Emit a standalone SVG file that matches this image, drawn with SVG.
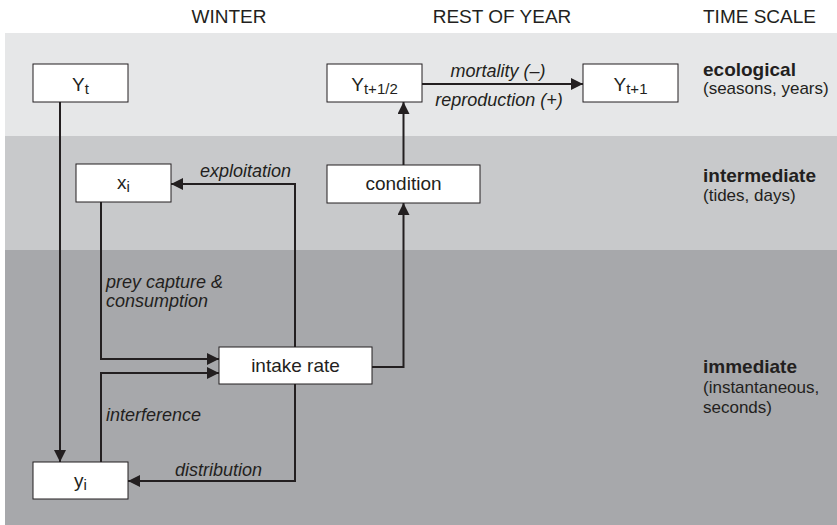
<svg xmlns="http://www.w3.org/2000/svg" width="837" height="525" viewBox="0 0 837 525">
<defs>
<marker id="arr" markerUnits="userSpaceOnUse" markerWidth="12" markerHeight="12" refX="12" refY="6" orient="auto">
<path d="M0,0 L12,6 L0,12 Z" fill="#231f20"/>
</marker>
<style>
text{font-family:"Liberation Sans",Arial,Helvetica,sans-serif;fill:#231f20}
.hd{font-size:19px;text-anchor:middle}
.nd rect{fill:#fff;stroke:#231f20;stroke-width:1}
.nd text{font-size:19px;text-anchor:middle}
.sub{font-size:15px}
.lbl{font-size:18px;font-style:italic}
.b{font-size:19px;font-weight:bold}
.s{font-size:17px}
#connectors path{fill:none;stroke:#231f20;stroke-width:2;marker-end:url(#arr)}
</style>
</defs>
<rect x="5" y="33" width="832" height="103" fill="#e6e7e8"/>
<rect x="5" y="136" width="832" height="114" fill="#c8c9cb"/>
<rect x="5" y="250" width="832" height="275" fill="#a7a8ab"/>
<g id="headers">
<text class="hd" x="229" y="23">WINTER</text>
<text class="hd" x="502" y="23">REST OF YEAR</text>
<text class="hd" x="703" y="23" style="text-anchor:start">TIME SCALE</text>
</g>
<g id="scales">
<text class="b" x="703" y="75.5">ecological</text>
<text class="s" x="703" y="94">(seasons, years)</text>
<text class="b" x="703" y="182">intermediate</text>
<text class="s" x="703" y="200.5">(tides, days)</text>
<text class="b" x="703" y="373">immediate</text>
<text class="s" x="703" y="393">(instantaneous,</text>
<text class="s" x="703" y="413">seconds)</text>
</g>
<g id="connectors">
<path d="M60,102 V462"/>
<path d="M101,202 V359 H219"/>
<path d="M101,462 V373 H219"/>
<path d="M295,347 V184 H171"/>
<path d="M295,384 V481 H128"/>
<path d="M372,367 H403.5 V203"/>
<path d="M403.5,165 V102"/>
<path d="M422,84 H583"/>
</g>
<g id="edge-labels">
<text class="lbl" x="200" y="177">exploitation</text>
<text class="lbl" x="106" y="288">prey capture &amp;</text>
<text class="lbl" x="106" y="307">consumption</text>
<text class="lbl" x="106" y="421">interference</text>
<text class="lbl" x="175" y="476">distribution</text>
<text class="lbl" x="498" y="77" text-anchor="middle">mortality (–)</text>
<text class="lbl" x="499" y="106" text-anchor="middle">reproduction (+)</text>
</g>
<g id="node-Yt" class="nd"><rect x="33" y="64" width="95" height="38"/><text x="80.5" y="91">Y<tspan class="sub" dy="3">t</tspan></text></g>
<g id="node-Yhalf" class="nd"><rect x="327" y="64" width="95" height="38"/><text x="374.5" y="91">Y<tspan class="sub" dy="3">t+1/2</tspan></text></g>
<g id="node-Yt1" class="nd"><rect x="583" y="64" width="95" height="38"/><text x="630.5" y="91">Y<tspan class="sub" dy="3">t+1</tspan></text></g>
<g id="node-xi" class="nd"><rect x="76" y="164" width="95" height="38"/><text x="123.5" y="189">x<tspan class="sub" dy="3">i</tspan></text></g>
<g id="node-condition" class="nd"><rect x="327" y="165" width="153" height="38"/><text x="403.5" y="190">condition</text></g>
<g id="node-intake" class="nd"><rect x="219" y="347" width="153" height="37"/><text x="295.5" y="372">intake rate</text></g>
<g id="node-yi" class="nd"><rect x="33" y="462" width="95" height="37"/><text x="80.5" y="487">y<tspan class="sub" dy="3">i</tspan></text></g>
</svg>
